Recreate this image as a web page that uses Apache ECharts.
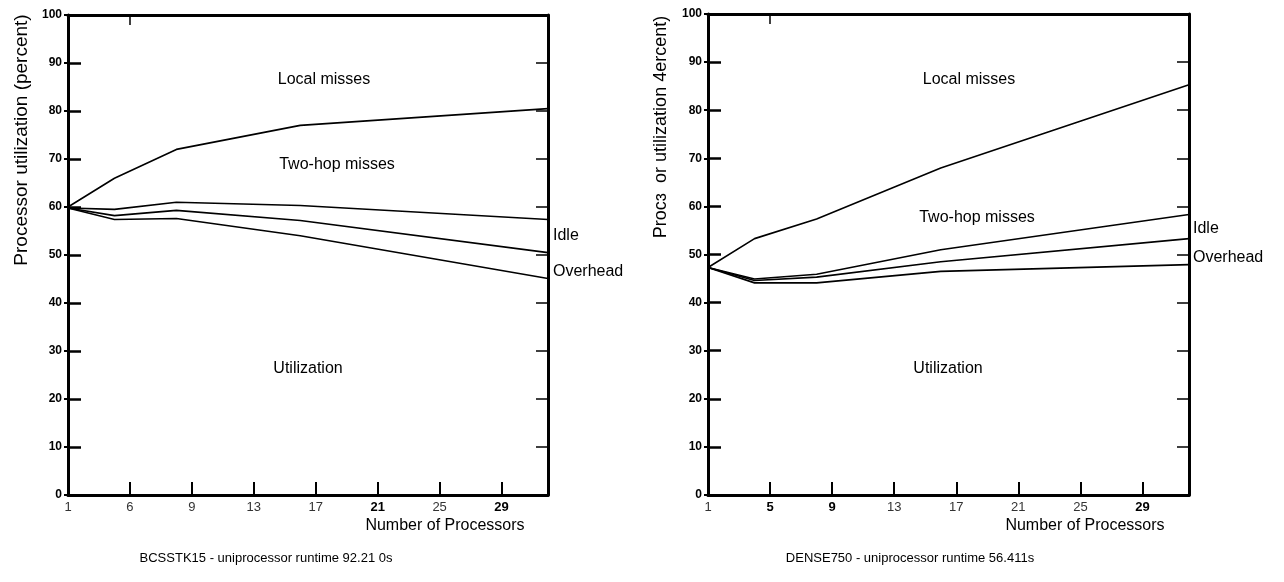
<!DOCTYPE html>
<html>
<head>
<meta charset="utf-8">
<script src="https://cdn.jsdelivr.net/npm/echarts@6/dist/echarts.min.js"></script>
<style>
html,body{margin:0;padding:0;background:#fff;}
#chart{width:1284px;height:582px;}
</style>
</head>
<body>
<div id="chart"></div>
<script>
// ---- data ----
const processors = [1, 4, 8, 16, 32];
const xTickValues = [1, 5, 9, 13, 17, 21, 25, 29];
const bcsTickLabels = ["1", "6", "9", "13", "17", "21", "25", "29"];
const bcsBoldLabels = ["21", "29"];
const denTickLabels = ["1", "5", "9", "13", "17", "21", "25", "29"];
const denBoldLabels = ["5", "9", "29"];

// BCSSTK15 boundaries (percent)
const bcsLocal    = [60, 66, 72, 77, 80.5];
const bcsTwoHop   = [59.8, 59.5, 61, 60.3, 57.4];
const bcsIdle     = [59.8, 58.2, 59.3, 57.2, 50.5];
const bcsOverhead = [59.8, 57.4, 57.6, 54, 45.1];

// DENSE750 boundaries (percent)
const denLocal    = [47.3, 53.3, 57.4, 68, 85.3];
const denTwoHop   = [47.3, 44.9, 45.9, 51, 58.3];
const denIdle     = [47.3, 44.6, 45.3, 48.5, 53.3];
const denOverhead = [47.3, 44.1, 44.1, 46.5, 47.9];

const bcsCaption = "BCSSTK15 - uniprocessor runtime 92.21 0s";
const denCaption = "DENSE750 - uniprocessor runtime 56.411s";
const bcsYTitle = "Processor utilization (percent)";
const denYTitle = "Procɜ  or utilization 4ercent)";
const xTitle = "Number of Processors";

// ---- chart ----
const chart = echarts.init(document.getElementById('chart'), null, {renderer: 'canvas'});
const sans = "'Liberation Sans', Arial, Helvetica, sans-serif";

function pairs(vals) { return processors.map((p, i) => [p, vals[i]]); }

function bottomX(gridIndex, labels, bolds) {
  return {
    type: 'value', gridIndex, position: 'bottom', min: 1, max: 32,
    splitLine: {show: false},
    axisLine: {show: true, onZero: false, lineStyle: {color: '#000', width: 3}},
    axisTick: {show: true, inside: true, length: 13, customValues: xTickValues, lineStyle: {color: '#000', width: 2}},
    axisLabel: {
      show: true, customValues: xTickValues, margin: 6,
      fontFamily: sans, fontSize: 13, color: '#333',
      formatter: function (v) {
        const i = xTickValues.indexOf(v);
        const t = i >= 0 ? labels[i] : '';
        return bolds.indexOf(t) >= 0 ? '{b|' + t + '}' : t;
      },
      rich: {b: {fontFamily: sans, fontWeight: 'bold', fontSize: 13, color: '#000'}}
    }
  };
}
function topX(gridIndex) {
  return {
    type: 'value', gridIndex, position: 'top', min: 1, max: 32,
    splitLine: {show: false},
    axisLine: {show: true, onZero: false, lineStyle: {color: '#000', width: 3}},
    axisTick: {show: true, inside: true, length: 10, customValues: [5], lineStyle: {color: '#000', width: 1.5}},
    axisLabel: {show: false}
  };
}
function leftY(gridIndex) {
  return {
    type: 'value', gridIndex, position: 'left', min: 0, max: 100, interval: 10,
    splitLine: {show: false},
    axisLine: {show: true, onZero: false, lineStyle: {color: '#000', width: 3}},
    axisTick: {show: true, inside: true, length: 13, lineStyle: {color: '#000', width: 2.5}},
    axisLabel: {show: true, margin: 6, fontFamily: sans, fontWeight: 'bold', fontSize: 12, color: '#000'}
  };
}
function leftYOut(gridIndex) {
  return {
    type: 'value', gridIndex, position: 'left', min: 0, max: 100, interval: 10,
    splitLine: {show: false},
    axisLine: {show: false},
    axisTick: {show: true, inside: false, length: 4, lineStyle: {color: '#000', width: 2}},
    axisLabel: {show: false}
  };
}
function rightY(gridIndex) {
  return {
    type: 'value', gridIndex, position: 'right', min: 0, max: 100, interval: 10,
    splitLine: {show: false},
    axisLine: {show: true, onZero: false, lineStyle: {color: '#000', width: 3}},
    axisTick: {show: true, inside: true, length: 12, lineStyle: {color: '#000', width: 1.5}},
    axisLabel: {show: false}
  };
}
function lineSeries(vals, xi, yi) {
  return {
    type: 'line', xAxisIndex: xi, yAxisIndex: yi, data: pairs(vals),
    showSymbol: false, symbol: 'none', silent: true, animation: false,
    lineStyle: {color: '#000', width: 1.6}
  };
}
function txt(x, y, s, size, align, extra) {
  return Object.assign({
    type: 'text', x: x, y: y, silent: true,
    style: {text: s, fill: '#000', font: size + 'px ' + sans, align: align || 'center', verticalAlign: 'middle'}
  }, extra || {});
}

const option = {
  animation: false,
  backgroundColor: '#fff',
  grid: [
    {left: 68, top: 15, width: 480, height: 480},
    {left: 708, top: 14, width: 481, height: 481}
  ],
  xAxis: [bottomX(0, bcsTickLabels, bcsBoldLabels), topX(0), bottomX(1, denTickLabels, denBoldLabels), topX(1)],
  yAxis: [leftY(0), rightY(0), leftY(1), rightY(1), leftYOut(0), leftYOut(1)],
  series: [
    lineSeries(bcsLocal, 0, 0), lineSeries(bcsTwoHop, 0, 0), lineSeries(bcsIdle, 0, 0), lineSeries(bcsOverhead, 0, 0),
    lineSeries(denLocal, 2, 2), lineSeries(denTwoHop, 2, 2), lineSeries(denIdle, 2, 2), lineSeries(denOverhead, 2, 2)
  ],
  graphic: [
    txt(22, 140, bcsYTitle, 19, 'center', {rotation: Math.PI / 2}),
    txt(661, 127, denYTitle, 18, 'center', {rotation: Math.PI / 2}),
    txt(324, 80, 'Local misses', 16),
    txt(337, 165, 'Two-hop misses', 16),
    txt(308, 369, 'Utilization', 16),
    txt(553, 236, 'Idle', 16, 'left'),
    txt(553, 272, 'Overhead', 16, 'left'),
    txt(969, 80, 'Local misses', 16),
    txt(977, 218, 'Two-hop misses', 16),
    txt(948, 369, 'Utilization', 16),
    txt(1193, 229, 'Idle', 16, 'left'),
    txt(1193, 258, 'Overhead', 16, 'left'),
    txt(445, 526, xTitle, 16),
    txt(1085, 526, xTitle, 16),
    txt(266, 558, bcsCaption, 13),
    txt(910, 558, denCaption, 13)
  ]
};
chart.setOption(option);
</script>
</body>
</html>
